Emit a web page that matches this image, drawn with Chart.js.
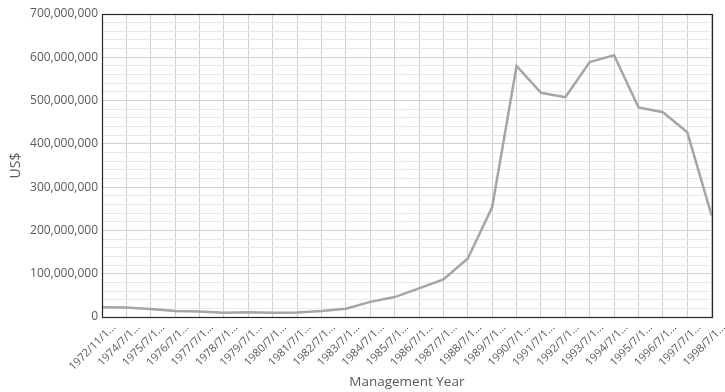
<!DOCTYPE html>
<html>
<head>
<meta charset="utf-8">
<title>Management Year – US$</title>
<script src="https://cdn.jsdelivr.net/npm/chart.js@4/dist/chart.umd.min.js"></script>
<style>
  html, body { margin: 0; padding: 0; background: #ffffff; }
  #wrap { width: 725px; height: 392px; position: relative; }
</style>
</head>
<body>
<div id="wrap"><canvas id="chart"></canvas></div>
<script>
// Management year start dates (labels are shown truncated)
const years = [
  "1972/11/1", "1974/7/1", "1975/7/1", "1976/7/1", "1977/7/1", "1978/7/1",
  "1979/7/1", "1980/7/1", "1981/7/1", "1982/7/1", "1983/7/1", "1984/7/1",
  "1985/7/1", "1986/7/1", "1987/7/1", "1988/7/1", "1989/7/1", "1990/7/1",
  "1991/7/1", "1992/7/1", "1993/7/1", "1994/7/1", "1995/7/1", "1996/7/1",
  "1997/7/1", "1998/7/1"
];

// Amount per management year, US$
const amountUSD = [
  22500000, 22000000, 18500000, 14000000, 12500000, 10000000,
  11000000, 10000000, 10500000, 14000000, 19000000, 35000000,
  46000000, 66000000, 87000000, 135000000, 254000000, 580000000,
  518000000, 508000000, 589000000, 605000000, 484000000, 473000000,
  427000000, 234000000
];

// Value axis: labelled every 100M, minor grid every 20M
const yMin = 0;
const yMax = 700000000;
const yMajor = 100000000;
const yMinor = 20000000;

const FONT = "'Open Sans', 'Noto Sans', sans-serif";
const TEXT = "#595959";

// Thin dark frame around the plot area
const plotFrame = {
  id: "plotFrame",
  afterDraw(chart) {
    const { ctx, chartArea: a } = chart;
    ctx.save();
    ctx.strokeStyle = "#262626";
    ctx.lineWidth = 1.2;
    ctx.strokeRect(Math.round(a.left) + 0.5, Math.round(a.top) + 0.5,
                   Math.round(a.right - a.left), Math.round(a.bottom - a.top));
    ctx.restore();
  }
};

new Chart(document.getElementById("chart"), {
  type: "line",
  data: {
    labels: years,
    datasets: [{
      label: "US$",
      data: amountUSD,
      borderColor: "#a5a5a5",
      borderWidth: 2.5,
      pointRadius: 0,
      tension: 0,
      fill: false
    }]
  },
  options: {
    responsive: true,
    maintainAspectRatio: false,
    animation: false,
    layout: { padding: { left: 0, right: 9, top: 14, bottom: 0 } },
    plugins: {
      legend: { display: false },
      tooltip: { enabled: false }
    },
    scales: {
      x: {
        type: "category",
        offset: false,
        grid: { color: "#d0d0d0", lineWidth: 1, drawTicks: false },
        border: { display: false },
        ticks: {
          autoSkip: false,
          minRotation: 45,
          maxRotation: 45,
          padding: 4,
          labelOffset: 12,
          color: TEXT,
          font: { family: FONT, size: 11 },
          callback(value, index) { return years[index] + "..."; }
        },
        title: {
          display: true,
          text: "Management Year",
          color: TEXT,
          font: { family: FONT, size: 13.5 },
          padding: { top: 0, bottom: 1.5 }
        },
        afterFit(scale) { scale.height = 75; }
      },
      y: {
        min: yMin,
        max: yMax,
        grid: {
          drawTicks: false,
          lineWidth: 1,
          color(ctx) {
            return ctx.tick && ctx.tick.value % yMajor === 0 ? "#d0d0d0" : "#e9e9e9";
          }
        },
        border: { display: false },
        ticks: {
          stepSize: yMinor,
          autoSkip: false,
          padding: 4,
          color: TEXT,
          font: { family: FONT, size: 12 },
          callback(value) {
            return value % yMajor === 0 ? value.toLocaleString("en-US") : "";
          }
        },
        title: {
          display: true,
          text: "US$",
          color: TEXT,
          font: { family: FONT, size: 14 },
          padding: { top: 7.5, bottom: 0 }
        },
        afterFit(scale) { scale.width = 102; }
      }
    }
  },
  plugins: [plotFrame]
});
</script>
</body>
</html>
